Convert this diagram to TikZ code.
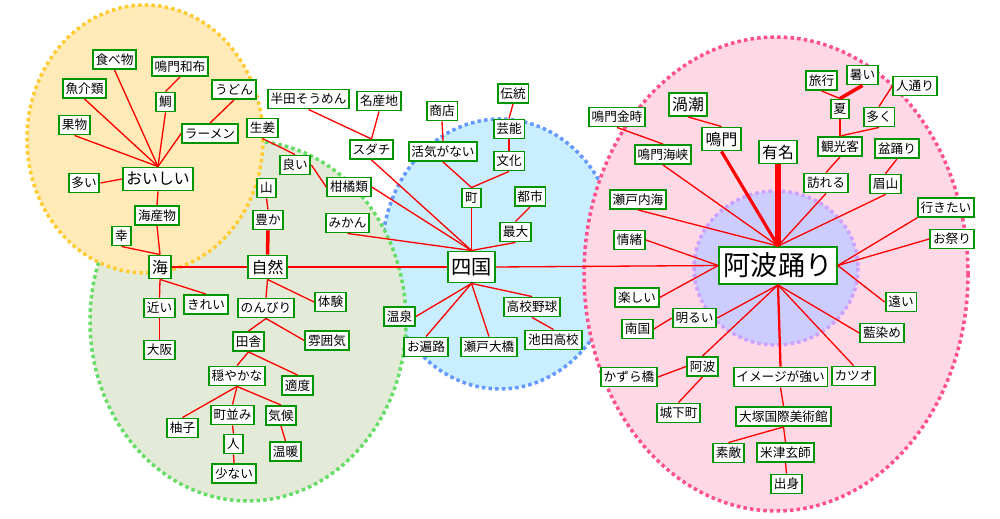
\documentclass[tikz,border=0pt]{standalone}
\usepackage{fontspec}
\setmainfont{Noto Sans CJK JP}
\usepackage{xcolor}
\usepackage{tikz}
\usetikzlibrary{positioning}

\definecolor{boxgreen}{RGB}{0,150,0}
\definecolor{yellowfill}{RGB}{255,234,184}
\definecolor{yellowline}{RGB}{255,204,51}
\definecolor{greenfill}{RGB}{228,234,216}
\definecolor{greenline}{RGB}{102,221,102}
\definecolor{bluefill}{RGB}{200,238,255}
\definecolor{blueline}{RGB}{102,153,255}
\definecolor{pinkfill}{RGB}{255,216,230}
\definecolor{pinkline}{RGB}{255,79,143}
\definecolor{lilacfill}{RGB}{204,204,255}
\definecolor{lilacline}{RGB}{204,160,255}

\begin{document}
\begin{tikzpicture}[x=0.02cm, y=-0.02cm]
    % Styles
    \tikzstyle{kw} = [rectangle, draw=boxgreen, line width=1.1pt, fill=white, inner xsep=1.6pt, inner ysep=0pt, minimum height=0.38cm, font=\fontsize{7.2}{8}\selectfont]
    \tikzstyle{kwmid} = [kw, minimum height=0.46cm, inner xsep=1.9pt, font=\fontsize{9}{10}\selectfont]
    \tikzstyle{kwbig} = [kw, minimum height=0.62cm, inner xsep=1.8pt, font=\fontsize{11.5}{12}\selectfont]
    \tikzstyle{kwhuge} = [kw, minimum height=0.74cm, inner xsep=2.5pt, font=\fontsize{15.5}{16}\selectfont]
    \tikzstyle{link} = [draw, red, line width=0.75pt]
    \tikzstyle{zone} = [line width=2pt, dash pattern=on 2pt off 1.8pt]

    \useasboundingbox (0,0) rectangle (1000,519);

    % Zones
    \draw [zone, fill=bluefill, draw=blueline] (500,254) ellipse [x radius=118, y radius=135];
    \draw [zone, fill=pinkfill, draw=pinkline] (776,274) ellipse [x radius=192, y radius=237];
    \draw [zone, fill=lilacfill, draw=lilacline] (776,268) ellipse [x radius=82, y radius=77];
    \draw [zone, fill=greenfill, draw=greenline] (248,321) ellipse [x radius=158, y radius=180];
    \draw [zone, fill=yellowfill, draw=yellowline] (145,139) ellipse [x radius=118, y radius=134];

    % Nodes: oishii
    \node [kw] (tabemono) at (114.5,59.5) {食べ物};
    \node [kw] (wakame) at (180,66.5) {鳴門和布};
    \node [kw] (gyokai) at (84.5,88.5) {魚介類};
    \node [kw] (udon) at (234,89.5) {うどん};
    \node [kw] (tai) at (165.5,102) {鯛};
    \node [kw] (kudamono) at (74.5,125) {果物};
    \node [kw] (ramen) at (210,133.5) {ラーメン};
    \node [kwmid] (oishii) at (158,179) {おいしい};
    \node [kw] (ooi) at (84,183) {多い};
    \node [kw] (kaisan) at (157,215.5) {海産物};
    \node [kw] (sachi) at (121.5,236) {幸};
    \node [kwmid] (umi) at (160,267) {海};

    % Nodes: shizen
    \node [kw] (shoga) at (262.5,128) {生姜};
    \node [kw] (yama) at (266.5,188) {山};
    \node [kw] (yutaka) at (268,220) {豊か};
    \node [kwmid] (shizen) at (267.5,267) {自然};
    \node [kw] (yoi) at (295,165) {良い};
    \node [kw] (kankitsu) at (349,187) {柑橘類};
    \node [kw] (mikan) at (347.5,223) {みかん};
    \node [kw] (chikai) at (159.5,308) {近い};
    \node [kw] (kirei) at (206,304.5) {きれい};
    \node [kw] (osaka) at (159.5,350) {大阪};
    \node [kw] (nonbiri) at (266,308) {のんびり};
    \node [kw] (taiken) at (330.5,302) {体験};
    \node [kw] (inaka) at (248.5,341.5) {田舎};
    \node [kw] (fun) at (327,340.5) {雰囲気};
    \node [kw] (odayaka) at (237,376) {穏やかな};
    \node [kw] (tekido) at (297.5,385.5) {適度};
    \node [kw] (yuzu) at (182.5,428) {柚子};
    \node [kw] (machinami) at (232.5,415) {町並み};
    \node [kw] (kiko) at (281,415.5) {気候};
    \node [kw] (hito) at (233.5,444) {人};
    \node [kw] (ondan) at (285.5,451.5) {温暖};
    \node [kw] (sukunai) at (234,473.5) {少ない};

    % Nodes: shikoku
    \node [kw] (handa) at (308.5,99) {半田そうめん};
    \node [kw] (meisan) at (379,101) {名産地};
    \node [kw] (sudachi) at (371.5,149.5) {スダチ};
    \node [kw] (shoten) at (442,111) {商店};
    \node [kw] (kakki) at (443,151.5) {活気がない};
    \node [kw] (dento) at (513,93.5) {伝統};
    \node [kw] (geino) at (509,129) {芸能};
    \node [kw] (bunka) at (509,161) {文化};
    \node [kw] (machi) at (471.5,198) {町};
    \node [kw] (toshi) at (530,196.5) {都市};
    \node [kw] (saidai) at (515.5,232) {最大};
    \node [kwbig] (shikoku) at (471.5,267) {四国};
    \node [kw] (onsen) at (399.5,316.5) {温泉};
    \node [kw] (henro) at (426,347) {お遍路};
    \node [kw] (ohashi) at (489,347) {瀬戸大橋};
    \node [kw] (koshien) at (532,307) {高校野球};
    \node [kw] (ikeda) at (553.5,340) {池田高校};

    % Nodes: awaodori
    \node [kw] (ryoko) at (821.5,80.5) {旅行};
    \node [kw] (atsui) at (862.5,75) {暑い};
    \node [kw] (hitodori) at (915,86) {人通り};
    \node [kw] (natsu) at (840,109) {夏};
    \node [kw] (ooku) at (879,117) {多く};
    \node [kwmid] (uzushio) at (688,104.5) {渦潮};
    \node [kw] (kintoki) at (617,117) {鳴門金時};
    \node [kwmid] (naruto) at (721.5,139) {鳴門};
    \node [kwmid] (yumei) at (778,152) {有名};
    \node [kw] (kanko) at (840,146.5) {観光客};
    \node [kw] (bon) at (897,148.5) {盆踊り};
    \node [kw] (kaikyo) at (663,154.5) {鳴門海峡};
    \node [kw] (otozure) at (826,183) {訪れる};
    \node [kw] (bizan) at (885.5,184) {眉山};
    \node [kw] (naikai) at (638,199.5) {瀬戸内海};
    \node [kw] (ikitai) at (946,207.5) {行きたい};
    \node [kw] (jocho) at (629.5,240) {情緒};
    \node [kw] (matsuri) at (952,239) {お祭り};
    \node [kwhuge] (awaodori) at (778,265.5) {阿波踊り};
    \node [kw] (tanoshii) at (637,297.5) {楽しい};
    \node [kw] (akarui) at (694.5,318) {明るい};
    \node [kw] (nangoku) at (637.5,329) {南国};
    \node [kw] (tooi) at (901,302) {遠い};
    \node [kw] (aizome) at (882,333) {藍染め};
    \node [kw] (awa) at (702.5,366.5) {阿波};
    \node [kw] (kazura) at (629,377) {かずら橋};
    \node [kw] (image) at (780.5,377) {イメージが強い};
    \node [kw] (katsuo) at (853.5,376) {カツオ};
    \node [kw] (joka) at (678.5,413) {城下町};
    \node [kw] (otsuka) at (783.5,416.5) {大塚国際美術館};
    \node [kw] (suteki) at (728.5,453) {素敵};
    \node [kw] (yonezu) at (785.5,452.5) {米津玄師};
    \node [kw] (shusshin) at (786.5,484) {出身};

    % Paths: oishii
    \path [link] (oishii.north) -- (tabemono.south);
    \path [link] (oishii.north) -- (gyokai.south);
    \path [link] (oishii.north) -- (kudamono.south);
    \path [link] (oishii.north) -- (tai.south);
    \path [link] (oishii.north) -- (ramen.west);
    \path [link] (wakame.south) -- (tai.north);
    \path [link] (udon.south) -- (ramen.north);
    \path [link] (ooi.east) -- (oishii.west);
    \path [link] (oishii.south) -- (kaisan.north);
    \path [link] (kaisan.south) -- (umi.north);
    \path [link] (sachi.south) -- (umi.north);
    \path [link] (umi.east) -- (shizen.west);

    % Paths: shizen
    \path [link] (yama.south) -- (yutaka.north);
    \path [link, line width=2pt] (yutaka.south) -- (shizen.north);
    \path [link] (shoga.south) -- (yoi.north);
    \path [link] (yoi.east) -- (kankitsu.west);
    \path [link] (umi.south) -- (chikai.north);
    \path [link] (umi.south) -- (kirei.north);
    \path [link] (chikai.south) -- (osaka.north);
    \path [link] (shizen.south) -- (nonbiri.north);
    \path [link] (shizen.south) -- (taiken.west);
    \path [link] (nonbiri.south) -- (inaka.north);
    \path [link] (nonbiri.south) -- (fun.west);
    \path [link] (inaka.south) -- (odayaka.north);
    \path [link] (inaka.south) -- (tekido.north);
    \path [link] (odayaka.south) -- (yuzu.north);
    \path [link] (odayaka.south) -- (machinami.north);
    \path [link] (odayaka.south) -- (kiko.north);
    \path [link] (machinami.south) -- (hito.north);
    \path [link] (hito.south) -- (sukunai.north);
    \path [link] (kiko.south) -- (ondan.north);
    \path [link] (shizen.east) -- (shikoku.west);

    % Paths: shikoku
    \path [link] (handa.south) -- (sudachi.north);
    \path [link] (meisan.south) -- (sudachi.north);
    \path [link] (sudachi.south) -- (shikoku.north);
    \path [link] (kankitsu.east) -- (shikoku.north);
    \path [link] (mikan.south) -- (shikoku.north);
    \path [link] (shoten.south) -- (kakki.north);
    \path [link] (kakki.south) -- (machi.north);
    \path [link] (dento.south) -- (geino.north);
    \path [link] (geino.south) -- (bunka.north);
    \path [link] (bunka.south) -- (machi.north);
    \path [link] (machi.south) -- (shikoku.north);
    \path [link] (toshi.south) -- (saidai.north);
    \path [link] (saidai.south) -- (shikoku.north);
    \path [link] (shikoku.south) -- (onsen.east);
    \path [link] (shikoku.south) -- (henro.north);
    \path [link] (shikoku.south) -- (ohashi.north);
    \path [link] (shikoku.south) -- (koshien.north);
    \path [link] (koshien.south) -- (ikeda.north);
    \path [link] (shikoku.east) -- (awaodori.west);

    % Paths: awaodori
    \path [link] (ryoko.south) -- (natsu.north);
    \path [link, line width=2pt] (atsui.south) -- (natsu.north);
    \path [link] (hitodori.west) -- (ooku.north);
    \path [link] (natsu.south) -- (kanko.north);
    \path [link] (ooku.south) -- (kanko.north);
    \path [link] (kanko.south) -- (otozure.north);
    \path [link] (otozure.south) -- (awaodori.north);
    \path [link] (bon.south) -- (bizan.north);
    \path [link] (bizan.south) -- (awaodori.north);
    \path [link] (ikitai.south west) -- (awaodori.east);
    \path [link] (matsuri.west) -- (awaodori.east);
    \path [link] (uzushio.south) -- (naruto.north);
    \path [link, line width=1.8pt] (naruto.south) -- (awaodori.north);
    \path [link, line width=3.4pt] (yumei.south) -- (awaodori.north);
    \path [link] (kintoki.south) -- (kaikyo.north);
    \path [link] (kaikyo.south) -- (awaodori.north);
    \path [link] (naikai.south) -- (awaodori.north);
    \path [link] (jocho.east) -- (awaodori.west);
    \path [link] (awaodori.west) -- (tanoshii.east);
    \path [link] (awaodori.south) -- (akarui.east);
    \path [link] (akarui.west) -- (nangoku.east);
    \path [link] (awaodori.south) -- (awa.north);
    \path [link] (awa.west) -- (kazura.east);
    \path [link] (awa.south) -- (joka.north);
    \path [link, line width=1.3pt] (awaodori.south) -- (image.north);
    \path [link] (awaodori.south) -- (katsuo.north);
    \path [link] (awaodori.south) -- (aizome.west);
    \path [link] (awaodori.east) -- (tooi.west);
    \path [link] (image.south) -- (otsuka.north);
    \path [link] (otsuka.south) -- (yonezu.north);
    \path [link] (otsuka.south) -- (suteki.north);
    \path [link] (yonezu.south) -- (shusshin.north);
\end{tikzpicture}
\end{document}
